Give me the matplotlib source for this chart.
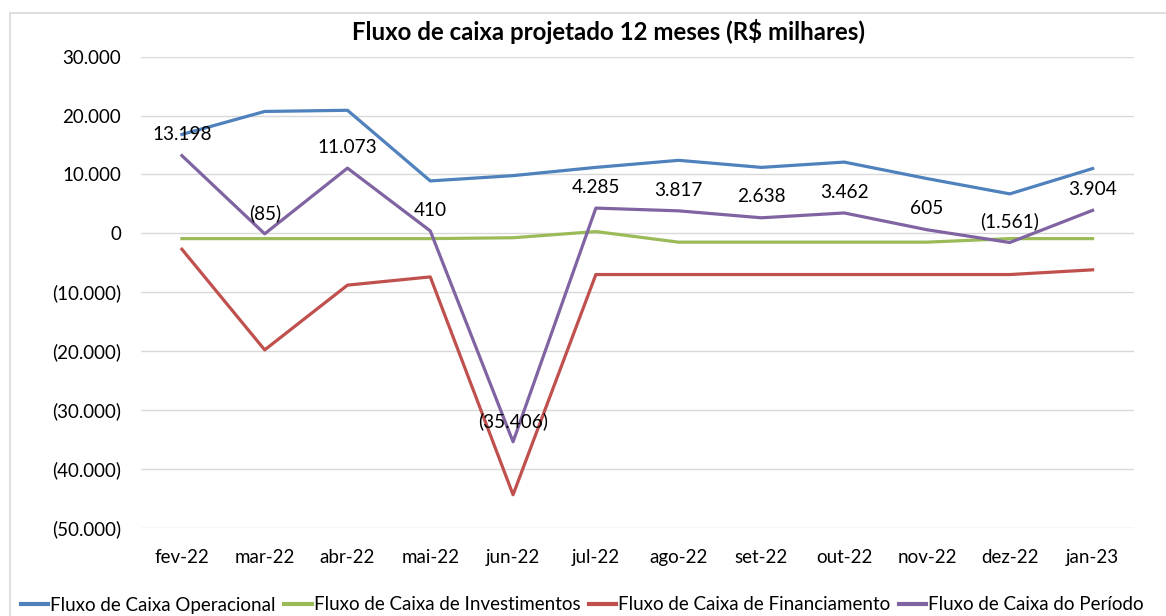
import matplotlib
matplotlib.use("Agg")
import matplotlib.pyplot as plt
from matplotlib.patches import Rectangle
from matplotlib.ticker import FuncFormatter, MultipleLocator

months = ["fev-22", "mar-22", "abr-22", "mai-22", "jun-22", "jul-22",
          "ago-22", "set-22", "out-22", "nov-22", "dez-22", "jan-23"]
operacional = [16800, 20700, 20900, 8900, 9800, 11200, 12400, 11200, 12100, 9300, 6700, 11000]
investimentos = [-900, -900, -900, -900, -750, 300, -1500, -1500, -1500, -1500, -900, -900]
financiamento = [-2700, -19800, -8800, -7400, -44400, -7000, -7000, -7000, -7000, -7000, -7000, -6200]
periodo = [13198, -85, 11073, 410, -35406, 4285, 3817, 2638, 3462, 605, -1561, 3904]

series_names = ["Fluxo de Caixa Operacional", "Fluxo de Caixa de Investimentos",
                "Fluxo de Caixa de Financiamento", "Fluxo de Caixa do Período"]
colors = ["#4F81BD", "#9BBB59", "#C0504D", "#8064A2"]

plt.rcParams['font.family'] = ['Lato', 'DejaVu Sans']

def br_fmt(v, pos=None):
    n = int(round(abs(v)))
    s = f"{n:,}".replace(",", ".")
    return f"({s})" if v < 0 else s

W, H = 1166, 616
fig = plt.figure(figsize=(W / 100, H / 100), dpi=100)
fig.patch.set_facecolor("white")

# chart frame
fig.patches.append(Rectangle((9.5 / W, -0.05), 1.1, 1 - 12.7 / H + 0.05, transform=fig.transFigure,
                             fill=False, edgecolor="#d9d9d9", linewidth=1.2, zorder=0))

left, right, top, bottom = 140.5, 1134, 56.7, 527.7
ax = fig.add_axes([left / W, 1 - bottom / H, (right - left) / W, (bottom - top) / H])
x = list(range(len(months)))
for data, name, c in zip([operacional, investimentos, financiamento, periodo], series_names, colors):
    ax.plot(x, data, color=c, linewidth=2.3, label=name, solid_joinstyle="round", zorder=3)

for xi, v in zip(x, periodo):
    ax.annotate(br_fmt(v), (xi, v), xytext=(0, 15), textcoords="offset points",
                ha="center", va="center", fontsize=13.7, color="black", zorder=5)

ax.set_xlim(-0.5, 11.5)
ax.set_ylim(-50000, 30000)
ax.yaxis.set_major_locator(MultipleLocator(10000))
ax.yaxis.set_major_formatter(FuncFormatter(br_fmt))
ax.set_xticks(x)
ax.set_xticklabels(months)
ax.tick_params(axis="both", length=0, labelsize=13.5)
ax.tick_params(axis="x", pad=15)
ax.tick_params(axis="y", pad=14)
ax.grid(axis="y", color="#d9d9d9", linewidth=1)
ax.set_axisbelow(True)
for s in ax.spines.values():
    s.set_visible(False)

fig.text(608 / W, 1 - 32 / H, "Fluxo de caixa projetado 12 meses (R$ milhares)",
         ha="center", va="center", fontsize=17.3, fontweight="bold")

leg = fig.legend(loc="center left", bbox_to_anchor=(21 / W, 1 - 605 / H), ncol=4,
                 frameon=False, fontsize=13.5, handlelength=1.45, handletextpad=0.12,
                 columnspacing=0.45, borderaxespad=0, borderpad=0)
for l in leg.get_lines():
    l.set_linewidth(3)

fig.savefig("out.png", dpi=100)
